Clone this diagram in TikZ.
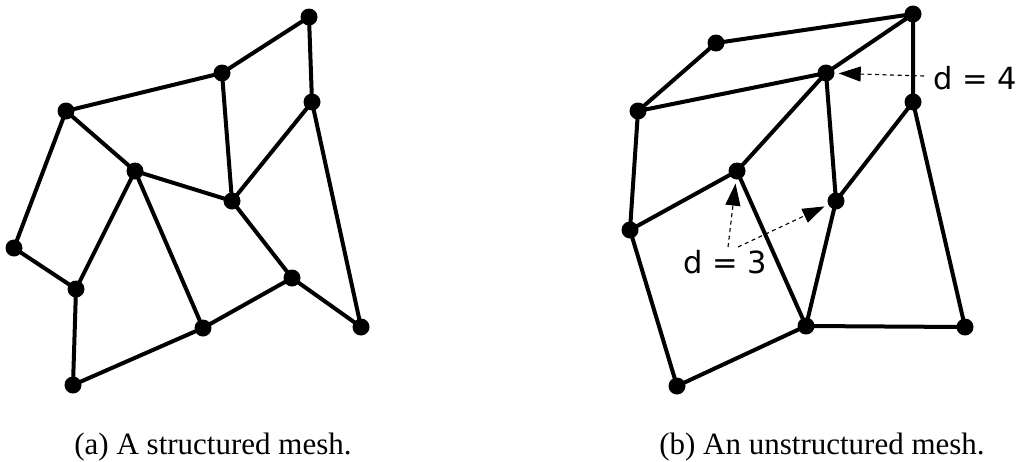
\documentclass[tikz,border=0pt]{standalone}
\usepackage{fontspec}
\setmainfont{Liberation Serif}
\newfontfamily\labfont{DejaVu Sans}
\usetikzlibrary{arrows.meta}
\begin{document}
\begin{tikzpicture}[x=1pt,y=-1pt,
  vtx/.style={circle,fill=black,inner sep=0pt,minimum size=17pt},
  edge/.style={line width=4pt},
  darrow/.style={dash pattern=on 4pt off 3.5pt,line width=1.1pt,shorten >=4pt,-{Triangle[length=22pt,width=15pt]}},
  lab/.style={font=\labfont\fontsize{30.5}{32}\selectfont,inner sep=0pt},
  captext/.style={font=\fontsize{31}{33}\selectfont,inner sep=0pt,anchor=base}]
\useasboundingbox (0,0) rectangle (1020,461);
% left mesh
\coordinate (A) at (309,17);
\coordinate (B) at (222,73);
\coordinate (C) at (312,102);
\coordinate (D) at (66,111);
\coordinate (E) at (135,171);
\coordinate (F) at (232,201);
\coordinate (G) at (14,248);
\coordinate (H) at (76,289);
\coordinate (I) at (292,278);
\coordinate (J) at (203,328);
\coordinate (K) at (361,327);
\coordinate (L) at (73,385);
\draw[edge] (A)--(B) (A)--(C) (B)--(D) (B)--(F) (D)--(E) (D)--(G)
  (E)--(F) (E)--(H) (E)--(J) (F)--(C) (F)--(I) (C)--(K) (G)--(H)
  (H)--(L) (L)--(J) (J)--(I) (I)--(K);
\foreach \p in {A,B,C,D,E,F,G,H,I,J,K,L} \node[vtx] (v\p) at (\p) {};
% right mesh
\coordinate (P1) at (913,14);
\coordinate (P2) at (716,43);
\coordinate (P3) at (826,73);
\coordinate (P4) at (913,102);
\coordinate (P5) at (638,111);
\coordinate (P6) at (737,171);
\coordinate (P7) at (836,201);
\coordinate (P8) at (630,230);
\coordinate (P9) at (806,326);
\coordinate (P10) at (965,327);
\coordinate (P11) at (677,386);
\draw[edge] (P2)--(P1) (P5)--(P2) (P5)--(P3) (P3)--(P1) (P1)--(P4)
  (P3)--(P6) (P3)--(P7) (P4)--(P7) (P4)--(P10) (P5)--(P8) (P8)--(P6)
  (P6)--(P9) (P7)--(P9) (P8)--(P11) (P11)--(P9) (P9)--(P10);
\foreach \p in {P1,P2,P3,P4,P5,P6,P7,P8,P9,P10,P11} \node[vtx] (v\p) at (\p) {};
% labels
\node[lab,anchor=west] (d4) at (933,78) {d = 4};
\coordinate (d4s) at (924,76);
\draw[darrow] (d4s) -- (vP3);
\node[lab] (d3) at (725,262) {d = 3};
\coordinate (d3a) at (728,247);
\coordinate (d3b) at (738,247);
\draw[darrow] (d3a) -- (vP6);
\draw[darrow] (d3b) -- (vP7);
% captions
\node[captext] (capa) at (213,454) {(a) A structured mesh.};
\node[captext] (capb) at (822,454) {(b) An unstructured mesh.};
\end{tikzpicture}
\end{document}
